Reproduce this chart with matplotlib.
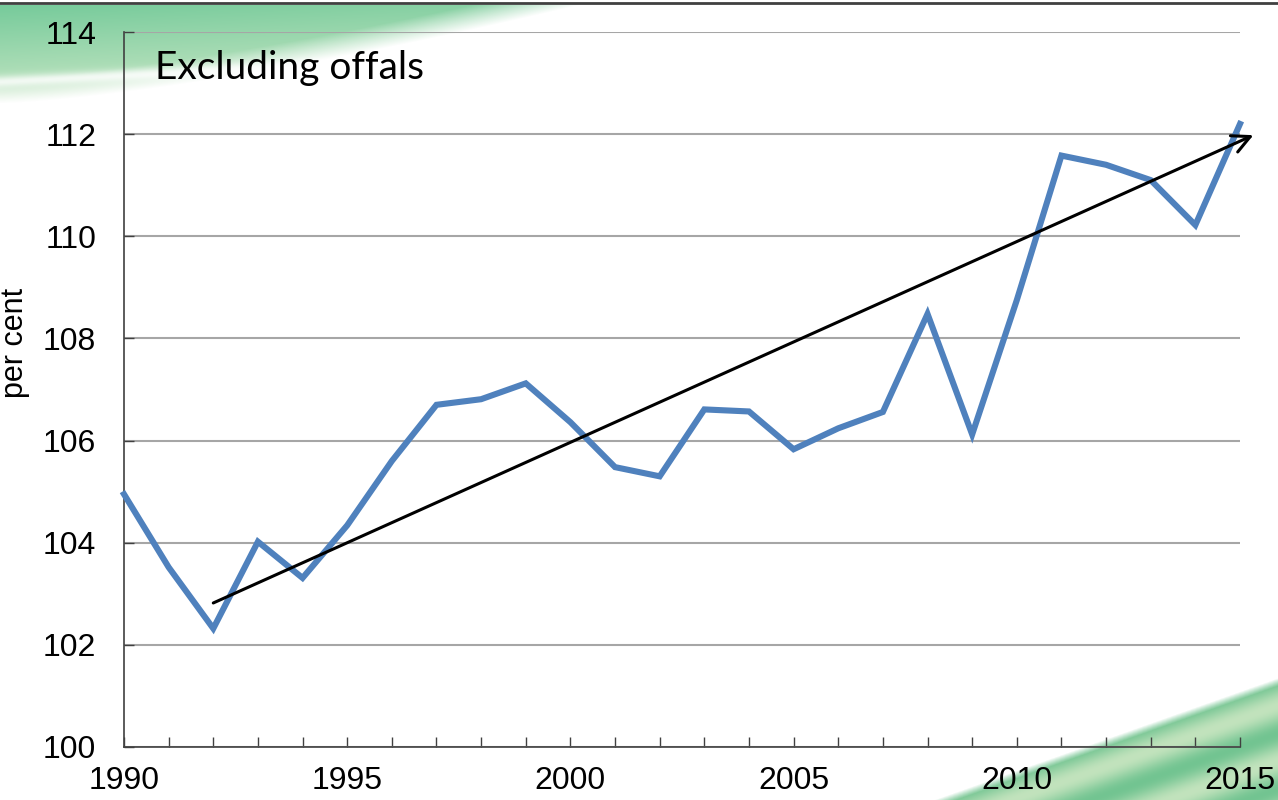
import numpy as np
import matplotlib.pyplot as plt

years = list(range(1990, 2016))
values = [104.95, 103.52, 102.32, 104.02, 103.31, 104.34, 105.60, 106.70,
          106.81, 107.12, 106.36, 105.48, 105.30, 106.61, 106.57, 105.83,
          106.24, 106.56, 108.48, 106.12, 108.75, 111.58, 111.40, 111.10,
          110.22, 112.20]
trend_start = (1992.0, 102.82)
trend_end = (2015.3, 111.98)
yticks = [100, 102, 104, 106, 108, 110, 112, 114]
xticks = [1990, 1995, 2000, 2005, 2010, 2015]

W, H = 1278, 800
fig = plt.figure(figsize=(W / 100, H / 100), dpi=100)
plt.rcParams['font.family'] = ['Liberation Sans', 'DejaVu Sans']

# background decoration (green swooshes of the slide template)
bg = fig.add_axes([0, 0, 1, 1], zorder=0)
bg.set_xlim(0, W)
bg.set_ylim(H, 0)
bg.axis('off')

# top-left swoosh, soft edged
xx, yy = np.meshgrid(np.linspace(0, 640, 400), np.linspace(0, 110, 110))
edge = 104 * (1 - (xx / 600) ** 1.4)
alpha = np.clip((edge - yy) / 25, 0, 1) * (yy > 5)
green = np.array([0.45, 0.79, 0.60])
pale = np.array([0.80, 0.91, 0.78])
t = np.clip(0.25 * xx / 600 + 0.9 * yy / 100, 0, 1)[..., None]
rgb = green * (1 - t) + pale * t
streak = np.exp(-((yy - 82 + xx * 0.05) / 6) ** 2)[..., None]
rgb = rgb + (1 - rgb) * streak * 0.8
rgba = np.dstack([rgb, alpha])
bg.imshow(rgba, extent=[0, 640, 110, 0], aspect='auto', zorder=0)

# bottom-right swoosh
xx, yy = np.meshgrid(np.linspace(900, W, 300), np.linspace(650, H, 150))
top = 800 - (xx - 935) * 122 / 343
d = (yy - top) / 80
band = 0.5 + 0.5 * np.cos(d * 9)
c1 = np.array([0.45, 0.77, 0.57])
c2 = np.array([0.76, 0.89, 0.74])
rgb2 = c1 * band[..., None] + c2 * (1 - band[..., None])
a2 = np.clip((yy - top) / 8, 0, 1)
bg.imshow(np.dstack([rgb2, a2]), extent=[900, W, H, 650], aspect='auto', zorder=0)

bg.plot([0, W], [3, 3], color='#404040', lw=2, zorder=1)

# main chart
ax = fig.add_axes([124 / W, 1 - 747 / H, (1240 - 124) / W, (747 - 32) / H], zorder=1)
ax.patch.set_alpha(0)
ax.set_xlim(1990, 2015)
ax.set_ylim(100, 114)
ax.set_yticks(yticks)
ax.set_xticks(years, minor=True)
ax.set_xticks(xticks)
ax.grid(axis='y', color='#a6a6a6', lw=1.5, zorder=0)
for s in ['top', 'right']:
    ax.spines[s].set_visible(False)
for s in ['left', 'bottom']:
    ax.spines[s].set_color('#404040')
    ax.spines[s].set_linewidth(1.2)
ax.tick_params(axis='x', which='both', direction='in', length=7, width=1, color='#404040',
               labelsize=23, pad=14)
ax.tick_params(axis='y', direction='in', length=7, width=1, color='#404040',
               labelsize=23, pad=20)

ax.plot(years, values, color='#4f81bd', lw=4.4, solid_joinstyle='miter', zorder=3, clip_on=False)
ax.annotate('', xy=trend_end, xytext=trend_start,
            arrowprops=dict(arrowstyle='->', color='black', lw=2.2, mutation_scale=32,
                            shrinkA=0, shrinkB=0), zorder=4, annotation_clip=False)

ax.set_ylabel('per cent', fontsize=22)
ax.yaxis.set_label_coords(-0.084, 0.565)
ax.text(0.028, 0.975, 'Excluding offals', transform=ax.transAxes, fontsize=28,
        family=['Lato', 'DejaVu Sans'], va='top', ha='left')

fig.savefig('out.png', dpi=100)
